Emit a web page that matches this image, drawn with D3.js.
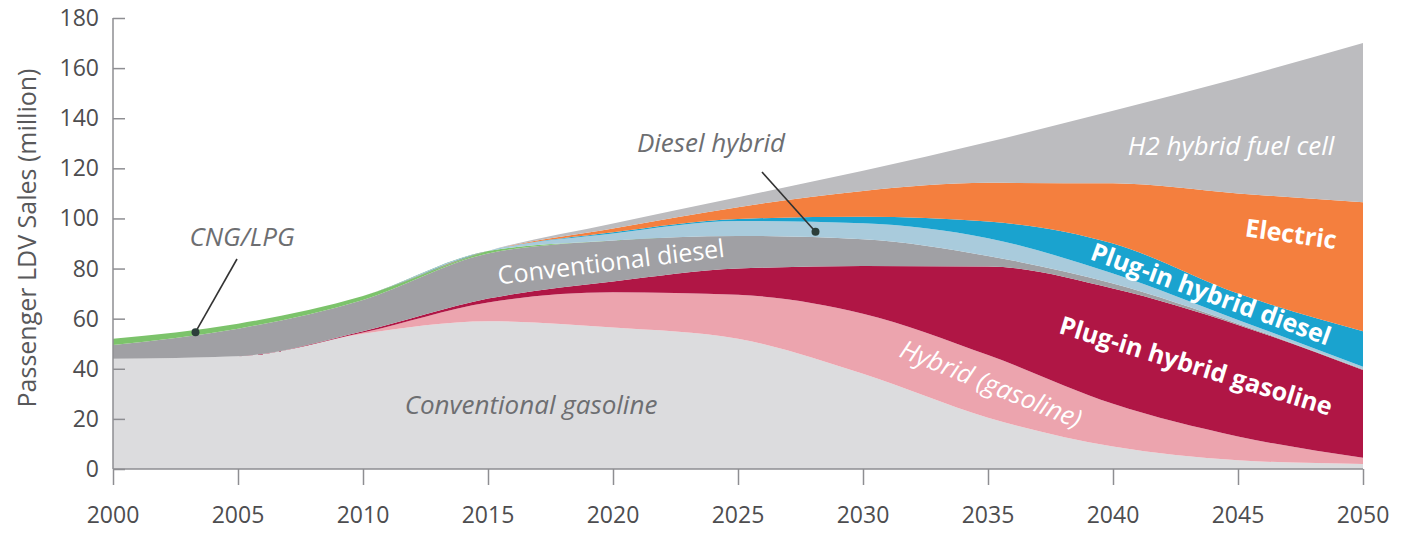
<!DOCTYPE html>
<html lang="en">
<head>
  <meta charset="utf-8">
  <title>Passenger LDV sales</title>
  <script src="https://cdn.jsdelivr.net/npm/d3@7"></script>
  <style>
    body { margin: 0; background: #fff; }
    svg text { font-family: "Open Sans", "Noto Sans", sans-serif; }
  </style>
</head>
<body>
  <svg id="chart" width="1403" height="533"></svg>
  <script>
    // data (million vehicles)
    var years = [2000, 2005, 2010, 2015, 2020, 2025, 2030, 2035, 2040, 2045, 2050];
    var convGasoline  = [44, 45, 54, 59, 56.5, 52, 38, 20.5, 9, 3.5, 2];
    var hybridGasoline = [0, 0, 0.5, 7.5, 14, 17.5, 24, 25, 17, 9.5, 2.5];
    var phevGasoline  = [0, 0, 0.5, 1.5, 4.3, 10.5, 19, 35.3, 46, 44.5, 35];
    var convDiesel    = [5.5, 11, 12.5, 18, 16.4, 13, 10.7, 4.2, 2, 0.5, 0.3];
    var cngLpg        = [2.5, 2, 1.5, 1, 0, 0, 0, 0, 0, 0, 0];
    var dieselHybrid  = [0, 0, 0, 0, 2.8, 6, 6.4, 7.1, 4, 1.5, 1];
    var phevDiesel    = [0, 0, 0, 0, 0.5, 0.8, 2.6, 6.7, 12, 10.5, 14.2];
    var electric      = [0, 0, 0, 0, 1.5, 4.7, 10.3, 15.4, 24, 40, 51.5];
    var h2FuelCell    = [0, 0, 0, 0, 2, 4, 8, 16.3, 29, 46, 63.5];
    var yTicks = [0, 20, 40, 60, 80, 100, 120, 140, 160, 180];
    var xTicks = [2000, 2005, 2010, 2015, 2020, 2025, 2030, 2035, 2040, 2045, 2050];

    var series = [
      { key: "convGasoline", values: convGasoline, color: "#dcdcde" },
      { key: "hybridGasoline", values: hybridGasoline, color: "#eca4ae" },
      { key: "phevGasoline", values: phevGasoline, color: "#b01645" },
      { key: "convDiesel", values: convDiesel, color: "#a0a0a4" },
      { key: "cngLpg", values: cngLpg, color: "#7cc36b" },
      { key: "dieselHybrid", values: dieselHybrid, color: "#a9cbdc" },
      { key: "phevDiesel", values: phevDiesel, color: "#1aa3cf" },
      { key: "electric", values: electric, color: "#f47f3e" },
      { key: "h2FuelCell", values: h2FuelCell, color: "#bcbcbf" }
    ];

    var rows = years.map(function (y, i) {
      var r = { year: y };
      series.forEach(function (s) { r[s.key] = s.values[i]; });
      return r;
    });

    var svg = d3.select("#chart");
    var x = d3.scaleLinear().domain([2000, 2050]).range([113, 1363]);
    var y = d3.scaleLinear().domain([0, 180]).range([469, 18]);

    var layers = d3.stack().keys(series.map(function (s) { return s.key; }))(rows);

    var area = d3.area()
      .curve(d3.curveMonotoneX)
      .x(function (d) { return x(d.data.year); })
      .y0(function (d) { return y(d[0]); })
      .y1(function (d) { return y(d[1]); });

    svg.append("g").selectAll("path")
      .data(layers)
      .enter().append("path")
      .attr("d", area)
      .attr("fill", function (d, i) { return series[i].color; });

    // axes
    var gy = svg.append("g").attr("transform", "translate(" + x(2000) + ",0)")
      .call(d3.axisRight(y).tickValues(yTicks).tickSize(12).tickFormat(""));
    gy.selectAll("line, path").attr("stroke", "#8e8e92").attr("stroke-width", 1.5);
    gy.select(".domain").attr("d", "M0," + y(0) + "V" + y(180));

    svg.append("g").selectAll("text")
      .data(yTicks).enter().append("text")
      .attr("x", 99).attr("y", function (d) { return y(d); })
      .attr("dy", "0.35em").attr("text-anchor", "end")
      .attr("font-size", 23).attr("fill", "#4d4d4f")
      .text(function (d) { return d; });

    var gx = svg.append("g").attr("transform", "translate(0," + y(0) + ")")
      .call(d3.axisBottom(x).tickValues(xTicks).tickSize(16).tickFormat(""));
    gx.selectAll("line, path").attr("stroke", "#8e8e92").attr("stroke-width", 1.5);
    gx.select(".domain").attr("d", "M" + x(2000) + ",0H" + x(2050));

    svg.append("g").selectAll("text")
      .data(xTicks).enter().append("text")
      .attr("x", function (d) { return x(d); }).attr("y", 515)
      .attr("dy", "0.35em").attr("text-anchor", "middle")
      .attr("font-size", 23).attr("fill", "#4d4d4f")
      .text(function (d) { return d; });

    svg.append("text")
      .attr("transform", "translate(27,238) rotate(-90)")
      .attr("text-anchor", "middle").attr("dy", "0.35em")
      .attr("font-size", 25).attr("fill", "#58585a")
      .text("Passenger LDV Sales (million)");

    // labels
    function label(txt, px, py, rot, opts) {
      svg.append("text")
        .attr("transform", "translate(" + px + "," + py + ") rotate(" + rot + ")")
        .attr("text-anchor", "middle").attr("dy", "0.35em")
        .attr("fill", opts.fill)
        .attr("font-style", opts.italic ? "italic" : "normal")
        .attr("font-weight", opts.bold ? "bold" : "normal")
        .attr("font-size", opts.size)
        .text(txt);
    }
    label("CNG/LPG", 242, 237, 0, { fill: "#6d6e71", italic: true, size: 26 });
    label("Diesel hybrid", 711, 143, 0, { fill: "#6d6e71", italic: true, size: 26 });
    label("Conventional diesel", 611, 262, -7, { fill: "#fff", size: 25 });
    label("Conventional gasoline", 531, 405, 0, { fill: "#6d6e71", italic: true, size: 26 });
    label("Hybrid (gasoline)", 991, 384, 22, { fill: "#fff", italic: true, size: 26 });
    label("Plug-in hybrid gasoline", 1196, 366, 17, { fill: "#fff", bold: true, size: 25 });
    label("Plug-in hybrid diesel", 1211, 294, 20, { fill: "#fff", bold: true, size: 25 });
    label("Electric", 1291, 234, 8, { fill: "#fff", bold: true, size: 25 });
    label("H2 hybrid fuel cell", 1231, 146, 0, { fill: "#fff", italic: true, size: 26 });

    // leader lines
    function leader(x1, y1, yr, val) {
      var x2 = x(yr), y2 = y(val);
      svg.append("line").attr("x1", x1).attr("y1", y1).attr("x2", x2).attr("y2", y2)
        .attr("stroke", "#333").attr("stroke-width", 1.6);
      svg.append("circle").attr("cx", x2).attr("cy", y2).attr("r", 4).attr("fill", "#2c3e3a");
    }
    leader(237, 259, 2003.3, 54.6);
    leader(762, 172, 2028.1, 94.7);
  </script>
</body>
</html>
